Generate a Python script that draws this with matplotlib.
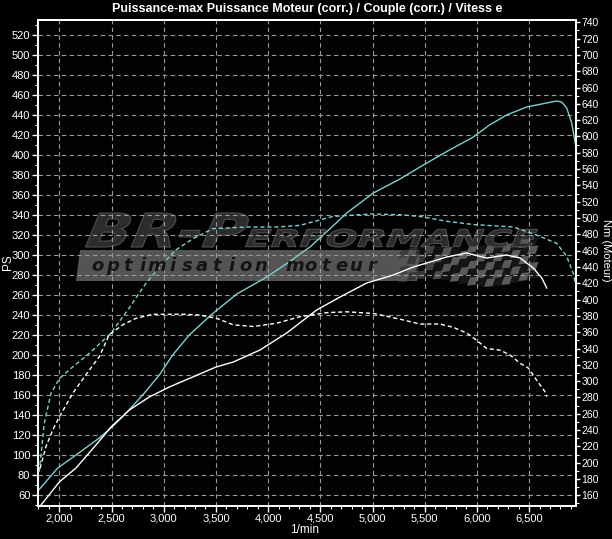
import matplotlib
matplotlib.use('Agg')
import numpy as np
import matplotlib.pyplot as plt
from matplotlib import font_manager
from matplotlib.textpath import TextPath
from matplotlib.patches import PathPatch, Polygon
from matplotlib.path import Path
from matplotlib.font_manager import FontProperties
from matplotlib.ticker import FuncFormatter, MultipleLocator

# ---------------- data ----------------
title = "Puissance-max Puissance Moteur (corr.) / Couple (corr.) / Vitess e"
x_label = "1/min"
y_label_left = "PS"
y_label_right = "Nm (Moteur)"

x_ticks = [2000, 2500, 3000, 3500, 4000, 4500, 5000, 5500, 6000, 6500]
ps_ticks = list(range(60, 521, 20))
nm_ticks = list(range(160, 741, 20))

# tuned power (PS) - cyan solid
rpm_pow_tuned = [1803, 1985, 2160, 2383, 2495, 2623, 2799, 2958, 3086, 3245, 3453,
                 3700, 3987, 4200, 4401, 4600, 4753, 5008, 5263, 5487, 5720, 5966,
                 6120, 6285, 6477, 6620, 6764, 6812, 6860, 6908, 6945]
ps_tuned = [65, 87, 100, 117, 127, 140, 160, 180, 200, 220, 240,
            261, 278, 293, 308, 327, 342, 362, 376, 390, 404, 418,
            430, 440, 448, 451, 454, 453, 447, 432, 410]

# stock power (PS) - white solid
rpm_pow_stock = [1825, 2000, 2160, 2351, 2495, 2671, 2862, 3054, 3278, 3501, 3667,
                 3922, 4178, 4465, 4689, 4944, 5072, 5199, 5391, 5711, 5902, 6094,
                 6285, 6413, 6540, 6621, 6669]
ps_stock = [50, 73, 87, 110, 128, 145, 158, 168, 178, 188, 193,
            205, 222, 245, 258, 272, 276, 280, 288, 298, 302, 297,
            300, 297, 287, 277, 267]

# tuned torque (Nm) - cyan dashed
rpm_trq_tuned = [1808, 1856, 1920, 2000, 2096, 2287, 2495, 2655, 2830, 2990, 3118,
                 3284, 3472, 3800, 4088, 4305, 4620, 5000, 5263, 5455, 5711, 5966,
                 6349, 6573, 6764, 6860, 6923, 6945]
nm_tuned = [189, 248, 285, 303, 314, 334, 359, 387, 420, 444, 461,
            475, 487, 489, 489, 491, 502, 505, 504, 502, 496, 492,
            489, 479, 469, 453, 432, 418]

# stock torque (Nm) - white dashed
rpm_trq_stock = [1815, 1873, 1937, 2000, 2128, 2256, 2383, 2479, 2607, 2735, 2895,
                 3054, 3200, 3349, 3508, 3667, 3858, 4082, 4305, 4561, 4753, 5008,
                 5263, 5454, 5646, 5774, 5902, 5998, 6094, 6222, 6317, 6413, 6493,
                 6573, 6652, 6669]
nm_stock = [193, 220, 240, 256, 285, 308, 330, 357, 369, 377, 382,
            382, 382, 381, 377, 369, 367, 371, 379, 384, 385, 383,
            376, 370, 370, 366, 359, 350, 340, 338, 332, 322, 316,
            301, 287, 281]

# ---------------- style ----------------
names = {f.name for f in font_manager.fontManager.ttflist}
NARROW = 'Liberation Sans Narrow' if 'Liberation Sans Narrow' in names else 'Liberation Sans'
plt.rcParams['font.family'] = [NARROW, 'DejaVu Sans']

CYAN = '#80cfcf'
GRID = '#9a9a9a'
W, H = 612, 539

fig = plt.figure(figsize=(W / 100, H / 100), dpi=100, facecolor='black')
ax = fig.add_axes([38 / W, 1 - 506 / H, (576 - 38) / W, (506 - 20) / H])
ax.set_facecolor('#020202')
ax2 = ax.twinx()

ax.set_xlim(1796, 6949)
ax.set_ylim(49, 535)
ax2.set_ylim(146.9, 742.8)

for a in (ax, ax2):
    for s in a.spines.values():
        s.set_color('white')
        s.set_linewidth(1.3)

ax.set_xticks(x_ticks)
ax.xaxis.set_major_formatter(FuncFormatter(lambda v, p: f"{int(v):,}"))
ax.xaxis.set_minor_locator(MultipleLocator(100))
ax.set_yticks(ps_ticks)
ax.yaxis.set_minor_locator(MultipleLocator(10))
ax2.set_yticks(nm_ticks)
ax2.yaxis.set_minor_locator(MultipleLocator(10))

ax.tick_params(which='major', colors='white', labelcolor='white', length=4,
               width=1, labelsize=8, direction='out', pad=1.5)
ax2.tick_params(which='major', colors='white', labelcolor='white', length=3,
                width=1, labelsize=7.5, direction='out', pad=1)
for a in (ax, ax2):
    a.tick_params(which='minor', colors='white', length=2, width=0.8, direction='out')

ax.set_axisbelow(True)
ax.grid(True, which='major', color=GRID, linestyle=(0, (4, 3)), linewidth=0.8)

fig.text(305 / W, 1 - 530 / H, x_label, color='white', fontsize=8.5,
         ha='center', va='center')
fig.text(8 / W, 1 - 262 / H, y_label_left, color='white', fontsize=8.5,
         rotation=90, ha='center', va='center')
fig.text(606 / W, 1 - 250 / H, y_label_right, color='white', fontsize=8,
         rotation=270, ha='center', va='center')
fig.text(307 / W, 1 - 9 / H, title, color='white', fontsize=9, ha='center',
         va='center', fontweight='bold')

# ---------------- watermark logo ----------------
def fig_pt(X, Y):
    return (X / W, 1 - Y / H)


def fitted_text(s, box, sk, fc, ec, z=0.2):
    x0, y0, x1, y1 = box
    tp = TextPath((0, 0), s, size=20, prop=FontProperties(family='DejaVu Sans', weight='bold'))
    v = tp.vertices
    bx0, by0 = v[:, 0].min(), v[:, 1].min()
    bw, bh = v[:, 0].max() - bx0, v[:, 1].max() - by0
    u = (v[:, 0] - bx0) / bw
    t = (v[:, 1] - by0) / bh
    X = x0 + u * (x1 - x0 - sk) + t * sk
    Y = y1 - t * (y1 - y0)
    nv = np.column_stack([X / W, 1 - Y / H])
    p = PathPatch(Path(nv, tp.codes), transform=fig.transFigure, facecolor=fc,
                  edgecolor=ec, linewidth=0.8, zorder=z)
    ax.add_patch(p)

# band
band = Polygon([fig_pt(80, 250), fig_pt(420, 250), fig_pt(417, 281), fig_pt(76, 281)],
               closed=True, transform=fig.transFigure, facecolor='#545454',
               edgecolor='none', zorder=0.1)
ax.add_patch(band)

# checkered flag
for i in range(16):
    for j in range(5):
        cx = 398 + i * 8.6
        wave = 5 * np.sin(i * 0.42 + 0.6)
        cy = 241 + j * 8.2 - wave + max(0, 6 - i) * 0.6
        sk = 3
        col = '#5a5a5a' if (i + j) % 2 == 0 else '#161616'
        if j == 0 and i < 8:
            continue
        alpha = min(1.0, 0.35 + i * 0.12)
        pts = [fig_pt(cx + sk, cy), fig_pt(cx + 8.6 + sk, cy - 0.8),
               fig_pt(cx + 8.6, cy + 7.4), fig_pt(cx, cy + 8.2)]
        ax.add_patch(Polygon(pts, closed=True, transform=fig.transFigure,
                             facecolor=col, edgecolor='none', alpha=alpha, zorder=0.15))

fitted_text("BR-P", (80, 213, 252, 247), 14, '#2c2c2c', '#4e4e4e')
fitted_text("ERFORMANCE", (242, 229, 538, 247), 7, '#2c2c2c', '#4e4e4e')

word1 = "optimisation"
word2 = "moteur"
for k, ch in enumerate(word1):
    fig.text((98 + 14.8 * k) / W, 1 - 266 / H, ch, color='#151515', fontsize=13,
             fontweight='bold', fontstyle='italic', family='DejaVu Sans',
             ha='center', va='center', zorder=0.3)
for k, ch in enumerate(word2):
    fig.text((295 + 15.4 * k) / W, 1 - 266 / H, ch, color='#151515', fontsize=13,
             fontweight='bold', fontstyle='italic', family='DejaVu Sans',
             ha='center', va='center', zorder=0.3)

# ---------------- curves ----------------
ax.plot(rpm_pow_tuned, ps_tuned, color=CYAN, lw=1.0, zorder=3)
ax.plot(rpm_pow_stock, ps_stock, color='white', lw=1.0, zorder=3)
ax2.plot(rpm_trq_tuned, nm_tuned, color=CYAN, lw=1.0, linestyle=(0, (3, 2)), zorder=3)
ax2.plot(rpm_trq_stock, nm_stock, color='white', lw=1.0, linestyle=(0, (3, 2)), zorder=3)

fig.savefig('out.png', dpi=100, facecolor='black')
